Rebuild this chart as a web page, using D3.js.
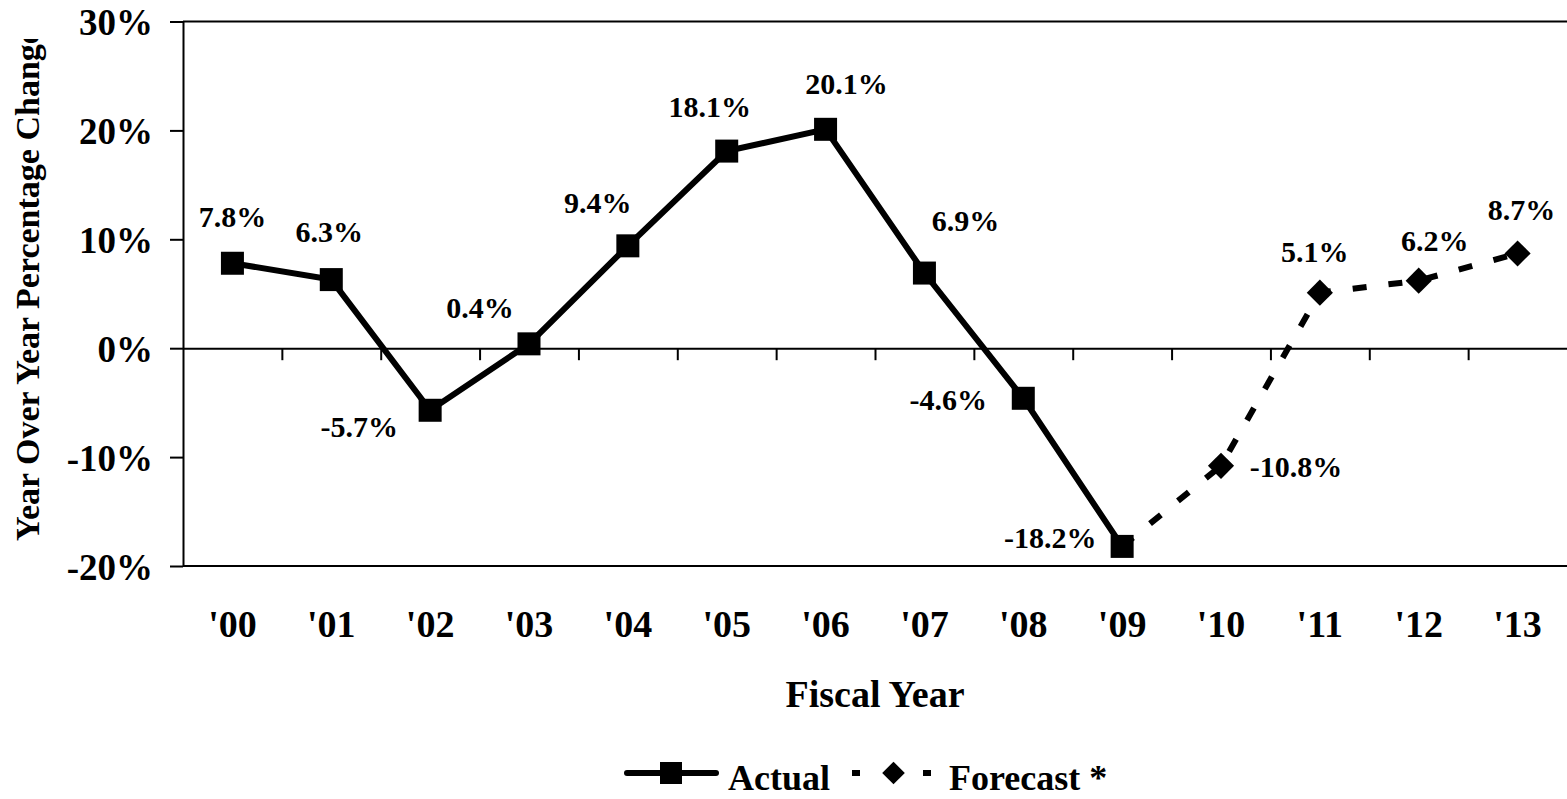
<!DOCTYPE html>
<html>
<head>
<meta charset="utf-8">
<script src="https://cdn.jsdelivr.net/npm/d3@7"></script>
<style>
  html, body { margin: 0; padding: 0; background: #fff; }
  svg { display: block; }
  text { font-family: "Liberation Serif", "Times New Roman", Times, serif; font-weight: bold; fill: #000; }
</style>
</head>
<body>
<svg id="chart" width="1567" height="799"></svg>
<script>
// Fiscal years on the category axis
const years = ["'00", "'01", "'02", "'03", "'04", "'05", "'06", "'07", "'08", "'09", "'10", "'11", "'12", "'13"];

// Actual year-over-year change, FY2000-FY2009 (%)
const actualYears = ["'00", "'01", "'02", "'03", "'04", "'05", "'06", "'07", "'08", "'09"];
const actualValues = [7.8, 6.3, -5.7, 0.4, 9.4, 18.1, 20.1, 6.9, -4.6, -18.2];

// Forecast change, joined to the last actual year (%)
const forecastYears = ["'09", "'10", "'11", "'12", "'13"];
const forecastValues = [-18.2, -10.8, 5.1, 6.2, 8.7];

// Value-axis ticks (%)
const yTickValues = [-20, -10, 0, 10, 20, 30];

// Legend entries
const legendNames = ["Actual", "Forecast *"];

// Data-label placement relative to each point: [dx, dy] (actual, then forecast after '09)
const actualLabelOffsets = [[0, -36], [-2, -38], [-71, 27], [-49, -26], [-30, -33], [-17, -34], [21, -35], [41, -42], [-75, 12], [-72, 2]];
const forecastLabelOffsets = [null, [75, 11], [-5, -31], [16, -30], [4, -33]];

const svg = d3.select("#chart");
const plotLeft = 183, plotRight = 1567, plotTop = 21.5, plotBottom = 566;

const x = d3.scaleBand().domain(years).range([plotLeft, plotRight]).paddingInner(0).paddingOuter(0);
const cx = d => x(d) + x.bandwidth() / 2;
const y = d3.scaleLinear().domain([-20, 30]).range([plotBottom, plotTop]);
const fmt = v => v.toFixed(1) + "%";

// Value axis with outward ticks
const yAxis = svg.append("g")
  .attr("transform", `translate(${plotLeft},0)`)
  .call(d3.axisLeft(y).tickValues(yTickValues).tickSize(13).tickSizeOuter(0).tickFormat(d => d + "%"));
yAxis.select(".domain").attr("stroke", "#000").attr("stroke-width", 2);
yAxis.selectAll(".tick line").attr("stroke", "#000").attr("stroke-width", 2);
yAxis.selectAll(".tick text")
  .attr("x", -30).attr("dy", null).attr("y", 13)
  .style("font-size", "37px")
  .style("font-family", "'Liberation Serif', 'Times New Roman', serif")
  .style("font-weight", "bold");

// Top and bottom plot borders
svg.append("g").selectAll("line").data([30, -20]).join("line")
  .attr("x1", plotLeft).attr("x2", plotRight)
  .attr("y1", d => y(d)).attr("y2", d => y(d))
  .attr("stroke", "#000").attr("stroke-width", 2);

// Category axis drawn along the zero line, ticks between categories
const boundary = d3.scaleLinear().domain([0, years.length]).range([plotLeft, plotRight]);
const xAxis = svg.append("g")
  .attr("transform", `translate(0,${y(0)})`)
  .call(d3.axisBottom(boundary).tickValues(d3.range(1, years.length)).tickSize(12).tickSizeOuter(0).tickFormat(""));
xAxis.select(".domain").attr("stroke", "#000").attr("stroke-width", 2);
xAxis.selectAll(".tick line").attr("stroke", "#000").attr("stroke-width", 2);

// Category labels below the plot
const xLabels = svg.append("g")
  .attr("transform", `translate(0,${plotBottom})`)
  .call(d3.axisBottom(x).tickSize(0).tickSizeOuter(0));
xLabels.select(".domain").remove();
xLabels.selectAll(".tick text")
  .attr("y", 71).attr("dy", null)
  .style("font-size", "38px")
  .style("font-family", "'Liberation Serif', 'Times New Roman', serif")
  .style("font-weight", "bold");

// Axis titles
svg.append("text")
  .attr("x", (plotLeft + plotRight) / 2).attr("y", 707)
  .attr("text-anchor", "middle")
  .style("font-size", "38px")
  .text("Fiscal Year");

svg.append("clipPath").attr("id", "ytitle-clip")
  .append("rect").attr("x", 0).attr("y", 39).attr("width", 80).attr("height", 760);
svg.append("g").attr("clip-path", "url(#ytitle-clip)")
  .append("text")
  .attr("transform", `translate(39,285) rotate(-90)`)
  .attr("text-anchor", "middle")
  .style("font-size", "34px")
  .text("Year Over Year Percentage Change");

// Series lines
const line = d3.line().x(d => cx(d.year)).y(d => y(d.value));
const actualData = actualYears.map((yr, i) => ({ year: yr, value: actualValues[i] }));
const forecastData = forecastYears.map((yr, i) => ({ year: yr, value: forecastValues[i] }));

svg.append("path").datum(forecastData)
  .attr("d", line)
  .attr("fill", "none").attr("stroke", "#000")
  .attr("stroke-width", 6).attr("stroke-dasharray", "14,22");

svg.append("path").datum(actualData)
  .attr("d", line)
  .attr("fill", "none").attr("stroke", "#000")
  .attr("stroke-width", 6).attr("stroke-linejoin", "miter");

// Markers
const sq = 23;
svg.append("g").selectAll("rect").data(actualData).join("rect")
  .attr("x", d => cx(d.year) - sq / 2).attr("y", d => y(d.value) - sq / 2)
  .attr("width", sq).attr("height", sq).attr("fill", "#000");

const diamond = d3.symbol().type(d3.symbolSquare).size(18.5 * 18.5);
svg.append("g").selectAll("path").data(forecastData.slice(1)).join("path")
  .attr("d", diamond)
  .attr("transform", d => `translate(${cx(d.year)},${y(d.value)}) rotate(45)`)
  .attr("fill", "#000");

// Data labels
svg.append("g").selectAll("text").data(actualData).join("text")
  .attr("x", (d, i) => cx(d.year) + actualLabelOffsets[i][0])
  .attr("y", (d, i) => y(d.value) + actualLabelOffsets[i][1])
  .attr("text-anchor", "middle")
  .style("font-size", "30px")
  .text(d => fmt(d.value));

svg.append("g").selectAll("text").data(forecastData.slice(1)).join("text")
  .attr("x", (d, i) => cx(d.year) + forecastLabelOffsets[i + 1][0])
  .attr("y", (d, i) => y(d.value) + forecastLabelOffsets[i + 1][1])
  .attr("text-anchor", "middle")
  .style("font-size", "30px")
  .text(d => fmt(d.value));

// Legend
const lg = svg.append("g");
const ly = 773;
lg.append("line").attr("x1", 627).attr("x2", 716).attr("y1", ly).attr("y2", ly)
  .attr("stroke", "#000").attr("stroke-width", 6).attr("stroke-linecap", "round");
lg.append("rect").attr("x", 660).attr("y", ly - 11).attr("width", 22).attr("height", 22).attr("fill", "#000");
lg.append("text").attr("x", 728).attr("y", 790).style("font-size", "36px").text(legendNames[0]);

lg.append("line").attr("x1", 852).attr("x2", 933).attr("y1", ly).attr("y2", ly)
  .attr("stroke", "#000").attr("stroke-width", 6).attr("stroke-dasharray", "8,63");
lg.append("path").attr("d", d3.symbol().type(d3.symbolSquare).size(16 * 16))
  .attr("transform", `translate(893.5,${ly}) rotate(45)`).attr("fill", "#000");
lg.append("text").attr("x", 949).attr("y", 790).style("font-size", "36px").text(legendNames[1]);
</script>
</body>
</html>
